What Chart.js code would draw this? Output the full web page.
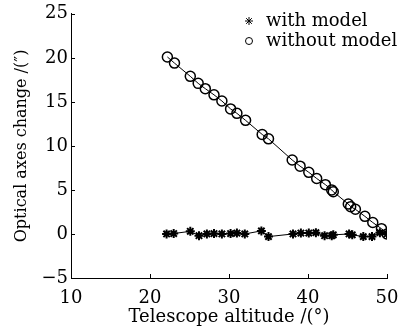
<!DOCTYPE html>
<html>
<head>
<meta charset="utf-8">
<script src="https://cdn.jsdelivr.net/npm/chart.js@4/dist/chart.umd.min.js"></script>
<style>
  html, body { margin: 0; padding: 0; background: #fff; }
  #wrap { width: 410px; height: 328px; position: relative; }
</style>
</head>
<body>
<div id="wrap"><canvas id="chart"></canvas></div>
<script>
// Telescope altitude (deg) and optical axes change (arcsec)
const altWithout = [22.2, 23.1, 25.1, 26.1, 27.0, 28.1, 29.1, 30.2, 31.0, 32.1, 34.2, 35.0, 38.0, 39.0, 40.1, 41.1, 42.2, 43.0, 43.2, 45.1, 45.4, 46.0, 47.2, 48.2, 49.3, 50.0];
const chgWithout = [20.1, 19.4, 17.9, 17.1, 16.5, 15.8, 15.1, 14.2, 13.7, 12.9, 11.3, 10.8, 8.4, 7.7, 7.0, 6.3, 5.6, 5.0, 4.8, 3.4, 3.1, 2.8, 2.0, 1.3, 0.6, 0.0];
const altWith = [22.1, 23.0, 25.1, 26.2, 27.2, 28.1, 29.1, 30.2, 31.0, 32.0, 34.1, 35.0, 38.1, 39.1, 40.1, 41.0, 42.1, 43.0, 43.2, 45.2, 45.6, 47.0, 48.1, 49.1, 50.0];
const chgWith = [0.0, 0.05, 0.3, -0.2, 0.0, 0.05, 0.0, 0.05, 0.1, 0.0, 0.35, -0.3, 0.0, 0.1, 0.1, 0.15, -0.2, -0.2, -0.1, 0.0, -0.1, -0.3, -0.3, 0.15, 0.0];
const seriesNames = ['with model', 'without model'];
const xTicks = [10, 20, 30, 40, 50];
const yTicks = [-5, 0, 5, 10, 15, 20, 25];

const FONT = '"DejaVu Serif", serif';

function toPoints(xs, ys) {
    return xs.map((x, i) => ({ x: x, y: ys[i] }));
}

// inward tick marks + legend drawn inside the plot
const extras = {
    id: 'extras',
    afterDraw(chart) {
        const ctx = chart.ctx;
        const xs = chart.scales.x, ys = chart.scales.y;
        const area = chart.chartArea;
        ctx.save();
        ctx.strokeStyle = '#000';
        ctx.lineWidth = 1;
        ctx.beginPath();
        xTicks.forEach(v => {
            const px = Math.round(xs.getPixelForValue(v)) + 0.5;
            ctx.moveTo(px, area.bottom);
            ctx.lineTo(px, area.bottom - 4);
        });
        yTicks.forEach(v => {
            const py = Math.round(ys.getPixelForValue(v)) + 0.5;
            ctx.moveTo(area.left, py);
            ctx.lineTo(area.left + 4, py);
        });
        ctx.stroke();

        // legend
        ctx.font = '18px ' + FONT;
        ctx.textBaseline = 'middle';
        ctx.textAlign = 'left';
        const lx = 249, ly = [21, 41];
        chart.data.datasets.forEach((ds, i) => {
            ctx.fillStyle = ds.pointStyle === 'star' ? '#000' : 'rgba(0,0,0,0)';
            ctx.strokeStyle = '#000';
            Chart.helpers.drawPoint(ctx, {
                pointStyle: ds.pointStyle,
                radius: ds.pointStyle === 'star' ? 4 : 3.5,
                borderWidth: ds.pointBorderWidth
            }, lx, ly[i]);
            ctx.fillStyle = '#000';
            ctx.fillText(ds.label, lx + 17, ly[i]);
        });
        ctx.restore();
    }
};

new Chart(document.getElementById('chart'), {
    type: 'scatter',
    data: {
        datasets: [{
            label: seriesNames[0],
            data: toPoints(altWith, chgWith),
            showLine: true,
            borderColor: '#000',
            borderWidth: 1,
            backgroundColor: '#000',
            pointStyle: 'star',
            pointRadius: 4.5,
            pointBorderWidth: 2,
            pointBorderColor: '#000',
            tension: 0
        }, {
            label: seriesNames[1],
            data: toPoints(altWithout, chgWithout),
            showLine: true,
            borderColor: '#000',
            borderWidth: 1,
            backgroundColor: 'rgba(0,0,0,0)',
            pointStyle: 'circle',
            pointRadius: 5,
            pointBorderWidth: 1.5,
            pointBorderColor: '#000',
            tension: 0
        }]
    },
    options: {
        responsive: true,
        maintainAspectRatio: false,
        animation: false,
        layout: { padding: { left: 12, right: 23, top: 5, bottom: 0 } },
        plugins: {
            legend: { display: false },
            tooltip: { enabled: false }
        },
        scales: {
            x: {
                type: 'linear',
                min: 10,
                max: 50,
                afterBuildTicks: s => { s.ticks = xTicks.map(v => ({ value: v })); },
                afterFit: s => { s.height = 50; },
                grid: { display: false, drawTicks: false },
                border: { display: true, color: '#000', width: 1 },
                ticks: { color: '#000', padding: 10, maxRotation: 0, font: { family: FONT, size: 18 } },
                title: { display: true, text: 'Telescope altitude /(°)', color: '#000', padding: 0, font: { family: FONT, size: 18 } }
            },
            y: {
                type: 'linear',
                min: -5,
                max: 25,
                afterBuildTicks: s => { s.ticks = yTicks.map(v => ({ value: v })); },
                afterFit: s => { s.width = 59; },
                grid: { display: false, drawTicks: false },
                border: { display: true, color: '#000', width: 1 },
                ticks: {
                    color: '#000', padding: 3, font: { family: FONT, size: 18 },
                    callback: v => String(v).replace('-', '\u2212')
                },
                title: { display: true, text: 'Optical axes change /(\u2033)', color: '#000', padding: 0, font: { family: FONT, size: 16 } }
            }
        }
    },
    plugins: [extras]
});
</script>
</body>
</html>
